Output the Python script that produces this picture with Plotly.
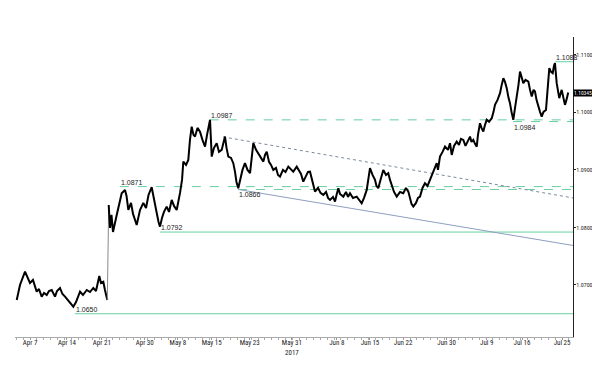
import plotly.graph_objects as go

# ---- data (trading-day index from Apr 7 2017, price) ----
day_a = [-1.92, -1.45, -0.72, -0.43, 0.0, 0.43, 0.97, 1.30, 1.69, 2.03, 2.42, 2.75, 3.14, 3.62, 3.91,
         4.34, 4.70, 5.07, 5.50, 5.93, 6.27, 6.66, 7.24, 7.67, 8.21, 8.68, 9.16, 9.55, 10.03, 10.27,
         10.61, 10.85, 11.19]
price_a = [1.06739, 1.07000, 1.07231, 1.07157, 1.07035, 1.07087, 1.06883, 1.06930, 1.06797, 1.06861,
           1.06826, 1.06896, 1.06913, 1.06797, 1.06896, 1.06948, 1.06843, 1.06797, 1.06739, 1.06670,
           1.06623, 1.06704, 1.06883, 1.06826, 1.06913, 1.06878, 1.06948, 1.06896, 1.07157, 1.07035,
           1.07057, 1.06913, 1.06739]

day_b = [11.39, 11.58, 11.79, 12.01, 12.55, 12.88, 13.27, 13.75, 13.97, 14.23, 14.62, 14.91, 15.44,
         15.92, 16.40, 16.79, 17.15, 17.61, 17.95, 18.34, 18.60, 18.81, 19.10, 19.39, 19.78, 20.12,
         20.51, 20.84, 21.23, 21.49, 21.71, 22.00, 22.19, 22.58, 22.91, 23.15, 23.40, 23.66, 23.88,
         24.24, 24.60, 24.96, 25.33, 25.62, 25.83, 26.05, 26.30, 26.63, 27.02, 27.35, 27.74, 28.00,
         28.22, 28.44, 28.70, 29.09, 29.42, 29.67, 29.88, 30.14, 30.39, 30.75, 31.11, 31.48, 31.84,
         32.06, 32.32, 32.71, 33.04, 33.43, 33.77, 34.01, 34.26, 34.59, 34.88, 35.21, 35.60, 35.89,
         36.18, 36.61, 36.98, 37.38, 37.77, 38.10, 38.60, 38.93, 39.22, 39.55, 39.94, 40.23, 40.52,
         40.81, 41.24, 41.68, 42.04, 42.45, 42.84, 43.13, 43.42, 43.85, 44.14, 44.36, 44.62, 44.86,
         45.34, 45.73, 46.02, 46.31, 46.74, 47.28, 47.61, 48.00, 48.34, 48.73, 48.99, 49.20, 49.57,
         49.93, 50.14, 50.40, 50.72, 51.13, 51.52, 51.85, 52.10, 52.34, 52.68, 53.07, 53.55, 54.02,
         54.41, 54.75, 54.99, 55.21, 55.47, 55.86, 56.15, 56.44, 56.80, 57.16, 57.53, 57.89, 58.32,
         58.86, 59.04, 59.33, 59.70, 60.06, 60.49, 60.78, 61.03, 61.36, 61.75, 62.08, 62.37, 62.71,
         63.02, 63.39, 63.68, 63.89, 64.15, 64.40, 64.65, 64.83, 65.12, 65.34, 65.60, 65.85, 66.09,
         66.43, 66.82, 67.08, 67.29, 67.66, 68.02, 68.23, 68.50, 68.74, 68.99, 69.25, 69.46, 69.68,
         69.94, 70.19, 70.43, 70.69, 70.91, 71.13, 71.39, 71.71, 72.12, 72.36, 72.61, 72.87, 73.08,
         73.30, 73.56, 73.81, 74.05, 74.31, 74.67, 74.89, 75.15, 75.40, 75.64, 75.83, 75.97, 76.22,
         76.40, 76.59, 76.94, 77.20, 77.42, 77.63, 77.89]
price_b = [1.08391, 1.07991, 1.08217, 1.07922, 1.08217, 1.08391, 1.08595, 1.08652, 1.08548, 1.08304,
           1.08426, 1.08235, 1.08043, 1.08304, 1.08426, 1.08339, 1.08565, 1.08699, 1.08513, 1.08252,
           1.08096, 1.08014, 1.08165, 1.08270, 1.08362, 1.08270, 1.08478, 1.08374, 1.08304, 1.08443,
           1.08600, 1.08826, 1.09144, 1.09087, 1.09174, 1.09522, 1.09753, 1.09609, 1.09580, 1.09730,
           1.09666, 1.09522, 1.09405, 1.09609, 1.09730, 1.09870, 1.09231, 1.09383, 1.09464, 1.09313,
           1.09348, 1.09470, 1.09579, 1.09383, 1.09231, 1.09209, 1.09117, 1.08965, 1.08791, 1.08682,
           1.08826, 1.09000, 1.09117, 1.09000, 1.08943, 1.09209, 1.09464, 1.09348, 1.09290, 1.09209,
           1.09144, 1.09260, 1.09318, 1.09139, 1.09087, 1.09000, 1.09035, 1.08913, 1.08883, 1.09000,
           1.08965, 1.09057, 1.09000, 1.08970, 1.09057, 1.09000, 1.08930, 1.08797, 1.08896, 1.08965,
           1.08970, 1.08826, 1.08623, 1.08687, 1.08600, 1.08565, 1.08617, 1.08513, 1.08478, 1.08530,
           1.08449, 1.08565, 1.08682, 1.08583, 1.08536, 1.08617, 1.08530, 1.08595, 1.08513, 1.08536,
           1.08478, 1.08421, 1.08513, 1.08652, 1.08861, 1.09030, 1.08913, 1.08826, 1.08722, 1.08682,
           1.08826, 1.09000, 1.08913, 1.08943, 1.08826, 1.08739, 1.08617, 1.08536, 1.08617, 1.08595,
           1.08687, 1.08623, 1.08513, 1.08409, 1.08362, 1.08426, 1.08513, 1.08536, 1.08687, 1.08769,
           1.08722, 1.08826, 1.08965, 1.09117, 1.09000, 1.09231, 1.09313, 1.09405, 1.09348, 1.09464,
           1.09261, 1.09417, 1.09492, 1.09435, 1.09539, 1.09522, 1.09417, 1.09522, 1.09579, 1.09487,
           1.09522, 1.09452, 1.09405, 1.09609, 1.09812, 1.09730, 1.09666, 1.09783, 1.09870, 1.09835,
           1.09899, 1.10009, 1.10130, 1.10217, 1.10334, 1.10461, 1.10595, 1.10530, 1.10421, 1.10252,
           1.10160, 1.10009, 1.09870, 1.10078, 1.10247, 1.10478, 1.10710, 1.10600, 1.10508, 1.10565,
           1.10536, 1.10391, 1.10275, 1.10391, 1.10362, 1.10217, 1.10130, 1.10009, 1.09927, 1.10009,
           1.10043, 1.10391, 1.10769, 1.10704, 1.10682, 1.10809, 1.10856, 1.10508, 1.10357, 1.10247,
           1.10391, 1.10270, 1.10130, 1.10217, 1.10345]

tick_days = [0, 5.35, 10.4, 16.6, 21.4, 26.3, 31.8, 37.9, 44.4, 49.2, 54.0, 60.3, 66.1, 71.2, 77.0]
tick_labels = ["Apr 7", "Apr 14", "Apr 21", "Apr 30", "May 8", "May 15", "May 23", "May 31<br>2017",
               "Jun 8", "Jun 15", "Jun 22", "Jun 30", "Jul 9", "Jul 16", "Jul 25"]

y_ticks = [1.07, 1.08, 1.09, 1.10, 1.11]

# horizontal support / resistance levels
level_values = [1.0650, 1.0792, 1.0871, 1.0866, 1.0987, 1.0984, 1.1088]
level_start = [6.5, 18.8, 13.0, 30.1, 26.0, 69.9, 76.0]
level_dash = ["solid", "solid", "dash", "dash", "dash", "dash", "solid"]
level_label_pos = ["above", "above", "above", "below", "above", "below", "above"]

# trend lines
upper_trend_days = [27.93, 78.58]
upper_trend_vals = [1.09574, 1.08513]
lower_trend_days = [30.14, 78.58]
lower_trend_vals = [1.08660, 1.07687]

last_price = 1.10345

X_RANGE = [-2.17, 78.58]
Y_RANGE = [1.06096, 1.1131]
GREEN = "#66cfa0"
FONT = "Liberation Sans, Arial"
NARROW = "Liberation Sans Narrow, Roboto Condensed, DejaVu Sans Condensed, Liberation Sans, Arial"

fig = go.Figure()

# levels
for v, s, d, pos in zip(level_values, level_start, level_dash, level_label_pos):
    fig.add_trace(go.Scatter(x=[s, X_RANGE[1]], y=[v, v], mode="lines",
                             line=dict(color=GREEN, width=1, dash=d), hoverinfo="skip"))
    fig.add_annotation(x=s, y=v, text=f"{v:.4f}", showarrow=False, xanchor="left",
                       yanchor="bottom" if pos == "above" else "top",
                       yshift=-1 if pos == "above" else 0, xshift=-1,
                       font=dict(size=7, color="#222", family=FONT))

# trendlines
fig.add_trace(go.Scatter(x=upper_trend_days, y=upper_trend_vals, mode="lines",
                         line=dict(color="#7d8a9c", width=1, dash="dot"), hoverinfo="skip"))
fig.add_trace(go.Scatter(x=lower_trend_days, y=lower_trend_vals, mode="lines",
                         line=dict(color="#8e9fbf", width=1), hoverinfo="skip"))

# price
fig.add_trace(go.Scatter(x=day_a, y=price_a, mode="lines", line=dict(color="black", width=2)))
fig.add_trace(go.Scatter(x=[day_a[-1], day_b[0]], y=[price_a[-1], price_b[0]], mode="lines",
                         line=dict(color="#888", width=1)))
fig.add_trace(go.Scatter(x=day_b, y=price_b, mode="lines", line=dict(color="black", width=2)))

# last price tag
fig.add_annotation(x=1, xref="paper", y=last_price, text=f"{last_price:.5f}", showarrow=False,
                   xanchor="left", xshift=0, bgcolor="black", borderpad=0,
                   font=dict(size=5.5, color="white", family=NARROW))

# page body has an 8px default margin, so the figure is sized to fit 600x365
fig.update_layout(
    width=592, height=357,
    margin=dict(l=7, r=27, t=29, b=28),
    paper_bgcolor="white", plot_bgcolor="white",
    showlegend=False,
    xaxis=dict(range=X_RANGE, showgrid=False, zeroline=False,
               tickmode="array", tickvals=tick_days, ticktext=tick_labels,
               ticks="outside", ticklen=2, tickcolor="#999",
               showline=True, linecolor="#aaa", linewidth=1,
               ticklabelstandoff=-3,
               tickfont=dict(size=7, color="#222", family=NARROW),
               minor=dict(ticks="outside", ticklen=2, dtick=1, tick0=0, tickcolor="#aaa"),
               automargin=False),
    yaxis=dict(range=Y_RANGE, side="right", showgrid=False, zeroline=False,
               tickmode="array", tickvals=y_ticks, ticktext=[f"{t:.5f}" for t in y_ticks],
               ticks="outside", ticklen=2, tickcolor="#222",
               showline=True, linecolor="#222", linewidth=1,
               ticklabelstandoff=-1,
               tickfont=dict(size=6, color="#222", family=NARROW),
               automargin=False),
)

fig.write_html("out.html")
